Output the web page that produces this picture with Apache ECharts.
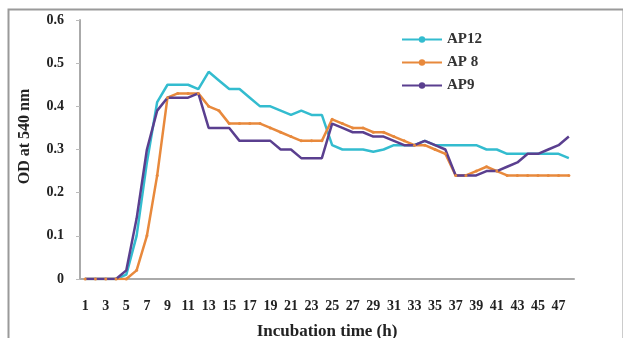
<!DOCTYPE html>
<html>
<head>
<meta charset="utf-8">
<script src="https://cdn.jsdelivr.net/npm/echarts@6/dist/echarts.min.js"></script>
<style>
html,body{margin:0;padding:0;background:#fff;}
#c{width:623px;height:338px;}
</style>
</head>
<body>
<div id="c"></div>
<script>
const hours = [];
for (let h = 1; h <= 48; h++) hours.push(String(h));
const yTicks = [0, 0.1, 0.2, 0.3, 0.4, 0.5, 0.6];
const seriesNames = ['AP12', 'AP 8', 'AP9'];
const ap12 = [0,0,0,0,0.01,0.1,0.27,0.41,0.45,0.45,0.45,0.44,0.48,0.46,0.44,0.44,0.42,0.40,0.40,0.39,0.38,0.39,0.38,0.38,0.31,0.30,0.30,0.30,0.295,0.30,0.31,0.31,0.31,0.32,0.31,0.31,0.31,0.31,0.31,0.30,0.30,0.29,0.29,0.29,0.29,0.29,0.29,0.28];
const ap8 = [0,0,0,0,0,0.02,0.1,0.24,0.42,0.43,0.43,0.43,0.40,0.39,0.36,0.36,0.36,0.36,0.35,0.34,0.33,0.32,0.32,0.32,0.37,0.36,0.35,0.35,0.34,0.34,0.33,0.32,0.31,0.31,0.30,0.29,0.24,0.24,0.25,0.26,0.25,0.24,0.24,0.24,0.24,0.24,0.24,0.24];
const ap9 = [0,0,0,0,0.02,0.14,0.30,0.39,0.42,0.42,0.42,0.43,0.35,0.35,0.35,0.32,0.32,0.32,0.32,0.30,0.30,0.28,0.28,0.28,0.36,0.35,0.34,0.34,0.33,0.33,0.32,0.31,0.31,0.32,0.31,0.30,0.24,0.24,0.24,0.25,0.25,0.26,0.27,0.29,0.29,0.30,0.31,0.33];
const colors = ['#33bccf', '#e8893c', '#5a3f8f'];
const font = 'Liberation Serif';

const chart = echarts.init(document.getElementById('c'));
chart.setOption({
  animation: false,
  backgroundColor: '#fff',
  graphic: [{
    type: 'rect', left: 6, top: 7, shape: {width: 615, height: 330},
    style: {fill: 'none', stroke: '#9a9a9a', lineWidth: 2}, silent: true
  }],
  grid: {left: 80, right: 49, top: 20, bottom: 59, containLabel: false, outerBoundsMode: 'none'},
  legend: {
    orient: 'vertical', left: 396, top: 27, itemGap: 8,
    itemWidth: 40, itemHeight: 8,
    textStyle: {fontFamily: font, fontWeight: 'bold', fontSize: 15, color: '#333'},
    data: seriesNames
  },
  xAxis: {
    type: 'category', data: hours, boundaryGap: true,
    name: 'Incubation time (h)', nameLocation: 'middle', nameGap: 44,
    nameTextStyle: {fontFamily: font, fontWeight: 'bold', fontSize: 17, color: '#222'},
    axisLine: {lineStyle: {color: '#aaa', width: 2}},
    axisTick: {lineStyle: {color: '#bbb'}, length: 3},
    axisLabel: {interval: 1, fontFamily: font, fontWeight: 'bold', fontSize: 14, color: '#222', margin: 20}
  },
  yAxis: {
    type: 'value', min: 0, max: 0.6, interval: 0.1,
    name: 'OD at 540 nm', nameLocation: 'middle', nameGap: 47,
    nameTextStyle: {fontFamily: font, fontWeight: 'bold', fontSize: 16, color: '#222', padding: [0, 0, 0, 26]},
    splitLine: {show: false},
    axisLine: {show: true, lineStyle: {color: '#aaa', width: 2}},
    axisTick: {show: true, lineStyle: {color: '#bbb'}, length: 4},
    axisLabel: {fontFamily: font, fontWeight: 'bold', fontSize: 14, color: '#222', margin: 16,
      formatter: v => String(Math.round(v * 10) / 10)}
  },
  series: [
    {name: seriesNames[0], type: 'line', data: ap12, color: colors[0], symbol: 'none', lineStyle: {width: 2.5}},
    {name: seriesNames[1], type: 'line', data: ap8, color: colors[1], symbol: 'circle', symbolSize: 3, lineStyle: {width: 2.5}},
    {name: seriesNames[2], type: 'line', data: ap9, color: colors[2], symbol: 'none', lineStyle: {width: 2.5}}
  ]
});
</script>
</body>
</html>
